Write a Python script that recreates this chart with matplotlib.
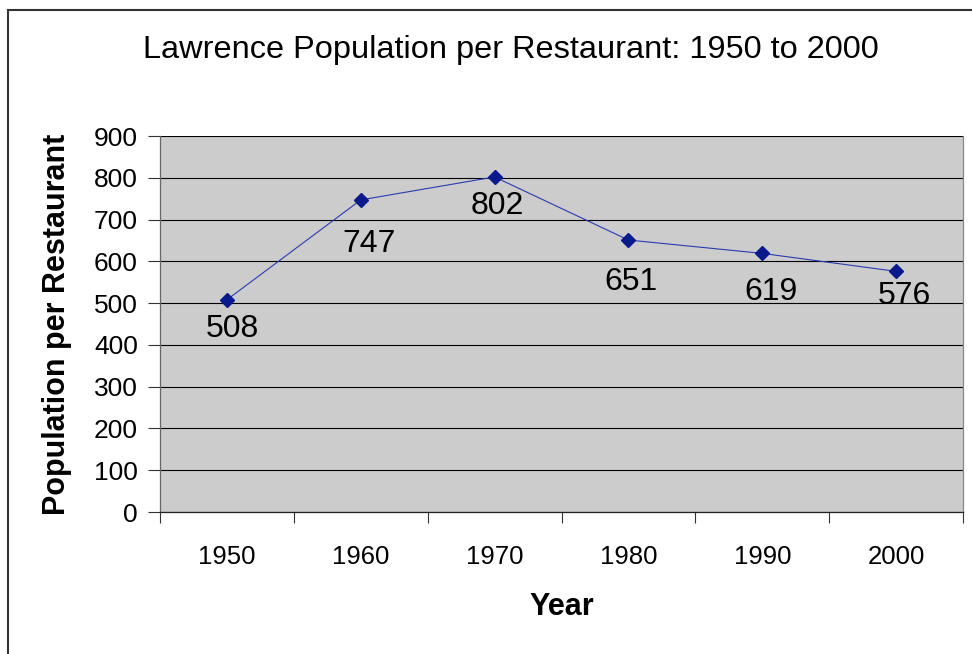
import matplotlib
matplotlib.use('Agg')
import matplotlib.pyplot as plt
from matplotlib.patches import Rectangle

years = ['1950', '1960', '1970', '1980', '1990', '2000']
pop_per_restaurant = [508, 747, 802, 651, 619, 576]
y_ticks = [0, 100, 200, 300, 400, 500, 600, 700, 800, 900]

# label offsets (points) below each marker, as placed in the original
label_offsets = [(4, -21), (6, -32), (2, -21), (2, -30), (6, -28), (6, -18)]

plt.rcParams['font.family'] = ['Liberation Sans', 'DejaVu Sans']

fig = plt.figure(figsize=(9.72, 6.54), dpi=100)
ax = fig.add_axes([160 / 972, 1 - 512 / 654, 803 / 972, 376 / 654])
ax.set_facecolor('#CCCCCC')

x = list(range(len(years)))
ax.plot(x, pop_per_restaurant, color='#2a3bb0', linewidth=0.8,
        marker='D', markersize=7, markerfacecolor='#0a1a8c',
        markeredgecolor='#0a1a8c', zorder=3)

for i, v in enumerate(pop_per_restaurant):
    ax.annotate(str(v), (i, v), xytext=label_offsets[i], textcoords='offset points',
                ha='center', va='center', fontsize=23, zorder=4)

ax.set_xlim(-0.5, len(years) - 0.5)
ax.set_ylim(0, 900)
ax.set_yticks(y_ticks)
ax.yaxis.grid(True, color='black', linewidth=0.8)
ax.set_axisbelow(True)

ax.set_xticks(x)
ax.set_xticklabels(years, fontsize=18.5)
ax.set_xticks([i - 0.5 for i in range(len(years) + 1)], minor=True)
ax.tick_params(axis='x', which='major', length=0, pad=24)
ax.tick_params(axis='x', which='minor', length=8, width=0.8, color='#333333')
ax.tick_params(axis='y', length=9, width=0.8, color='#333333', labelsize=19, pad=7)

ax.spines['top'].set_visible(False)
ax.spines['right'].set_color('#888888')
ax.spines['left'].set_color('#666666')
ax.spines['bottom'].set_color('#222222')
for s in ax.spines.values():
    s.set_linewidth(0.9)

ax.set_xlabel('Year', fontsize=22, fontweight='bold')
ax.xaxis.set_label_coords(0.5, -0.213)
ax.set_ylabel('Population per Restaurant', fontsize=22, fontweight='bold')
ax.yaxis.set_label_coords(-0.11, 0.5)

fig.text(511 / 972, 1 - 50 / 654, 'Lawrence Population per Restaurant: 1950 to 2000',
         ha='center', va='center', fontsize=23.4)

fig.patches.append(Rectangle((8 / 972, -0.1), 1.2, 1.1 - 10 / 654, transform=fig.transFigure,
                             fill=False, edgecolor='#333333', linewidth=1.5))

fig.savefig('out.png', dpi=100)
